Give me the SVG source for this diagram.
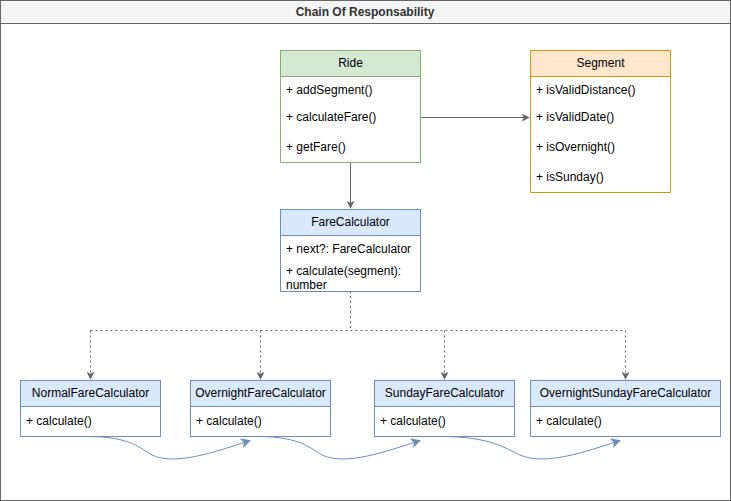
<svg xmlns="http://www.w3.org/2000/svg" width="731" height="501" viewBox="0 0 731 501">
<defs>
<style>
text{font-family:"Liberation Sans",Arial,sans-serif;font-size:12px;fill:#000}
.h{text-anchor:middle}
.g rect{fill:#fff}
.ride rect{stroke:#82b366}
.ride .hd{fill:#d5e8d4}
.seg rect{stroke:#d79b00}
.seg .hd{fill:#ffe6cc}
.blue rect{stroke:#6c8ebf}
.blue .hd{fill:#dae8fc}
.conn{fill:none;stroke:#666;stroke-width:1}
.dash{fill:none;stroke:#666;stroke-width:1;stroke-dasharray:2 3}
.chain{fill:none;stroke:#6c8ebf;stroke-width:1}
</style>
<marker id="ag" viewBox="0 0 10 10" refX="9" refY="5" markerWidth="8" markerHeight="8" orient="auto" markerUnits="userSpaceOnUse"><path d="M0,0 L10,5 L0,10 L2.5,5 Z" fill="#666"/></marker>
<marker id="ab" viewBox="0 0 10 10" refX="9" refY="5" markerWidth="10" markerHeight="10" orient="auto" markerUnits="userSpaceOnUse"><path d="M0,0 L10,5 L0,10 L2.5,5 Z" fill="#6c8ebf"/></marker>
</defs>
<g id="frame">
<rect x="0.5" y="0.5" width="730" height="500" fill="#fff" stroke="#666"/>
<rect x="0.5" y="0.5" width="730" height="23" fill="#f5f5f5" stroke="#666"/>
<text x="365" y="16" class="h" style="font-weight:bold;fill:#333">Chain Of Responsability</text>
</g>
<g id="connectors">
<path class="conn" d="M420.5,117.5 L529,117.5" marker-end="url(#ag)"/>
<path class="conn" d="M350.5,162 L350.5,208" marker-end="url(#ag)"/>
<path class="dash" d="M350.5,291 L350.5,330.5 M90.5,330.5 L625.5,330.5"/>
<path class="dash" d="M90.5,330.5 L90.5,379" marker-end="url(#ag)"/>
<path class="dash" d="M260.5,330.5 L260.5,379" marker-end="url(#ag)"/>
<path class="dash" d="M444.5,330.5 L444.5,379" marker-end="url(#ag)"/>
<path class="dash" d="M625.5,330.5 L625.5,379" marker-end="url(#ag)"/>
<path class="chain" d="M90,436.5 C130,437 140,448 152,455 C175,466 215,452 250,440.5" marker-end="url(#ab)"/>
<path class="chain" d="M260,436.5 C300,437 310,448 322,455 C345,466 385,452 420,440.5" marker-end="url(#ab)"/>
<path class="chain" d="M444,436.5 C490,437 505,448 520,455 C545,466 585,452 620,440.5" marker-end="url(#ab)"/>
</g>
<g id="ride" class="g ride">
<rect x="280.5" y="50.5" width="140" height="112"/>
<rect class="hd" x="280.5" y="50.5" width="140" height="26"/>
<text x="350.5" y="67" class="h">Ride</text>
<text x="286" y="94">+ addSegment()</text>
<text x="286" y="121">+ calculateFare()</text>
<text x="286" y="151">+ getFare()</text>
</g>
<g id="segment" class="g seg">
<rect x="530.5" y="50.5" width="140" height="142"/>
<rect class="hd" x="530.5" y="50.5" width="140" height="26"/>
<text x="600.5" y="67" class="h">Segment</text>
<text x="536" y="94">+ isValidDistance()</text>
<text x="536" y="121">+ isValidDate()</text>
<text x="536" y="151">+ isOvernight()</text>
<text x="536" y="181">+ isSunday()</text>
</g>
<g id="farecalculator" class="g blue">
<rect x="280.5" y="209.5" width="140" height="82"/>
<rect class="hd" x="280.5" y="209.5" width="140" height="26"/>
<text x="350.5" y="226" class="h">FareCalculator</text>
<text x="286" y="253">+ next?: FareCalculator</text>
<text x="286" y="275">+ calculate(segment):</text>
<text x="286" y="289">number</text>
</g>
<g id="normal" class="g blue">
<rect x="20.5" y="380.5" width="140" height="56"/>
<rect class="hd" x="20.5" y="380.5" width="140" height="26"/>
<text x="90.5" y="397" class="h">NormalFareCalculator</text>
<text x="26" y="425">+ calculate()</text>
</g>
<g id="overnight" class="g blue">
<rect x="190.5" y="380.5" width="140" height="56"/>
<rect class="hd" x="190.5" y="380.5" width="140" height="26"/>
<text x="260.5" y="397" class="h">OvernightFareCalculator</text>
<text x="196" y="425">+ calculate()</text>
</g>
<g id="sunday" class="g blue">
<rect x="374.5" y="380.5" width="140" height="56"/>
<rect class="hd" x="374.5" y="380.5" width="140" height="26"/>
<text x="444.5" y="397" class="h">SundayFareCalculator</text>
<text x="380" y="425">+ calculate()</text>
</g>
<g id="overnightsunday" class="g blue">
<rect x="530.5" y="380.5" width="190" height="56"/>
<rect class="hd" x="530.5" y="380.5" width="190" height="26"/>
<text x="625.5" y="397" class="h">OvernightSundayFareCalculator</text>
<text x="536" y="425">+ calculate()</text>
</g>
</svg>
